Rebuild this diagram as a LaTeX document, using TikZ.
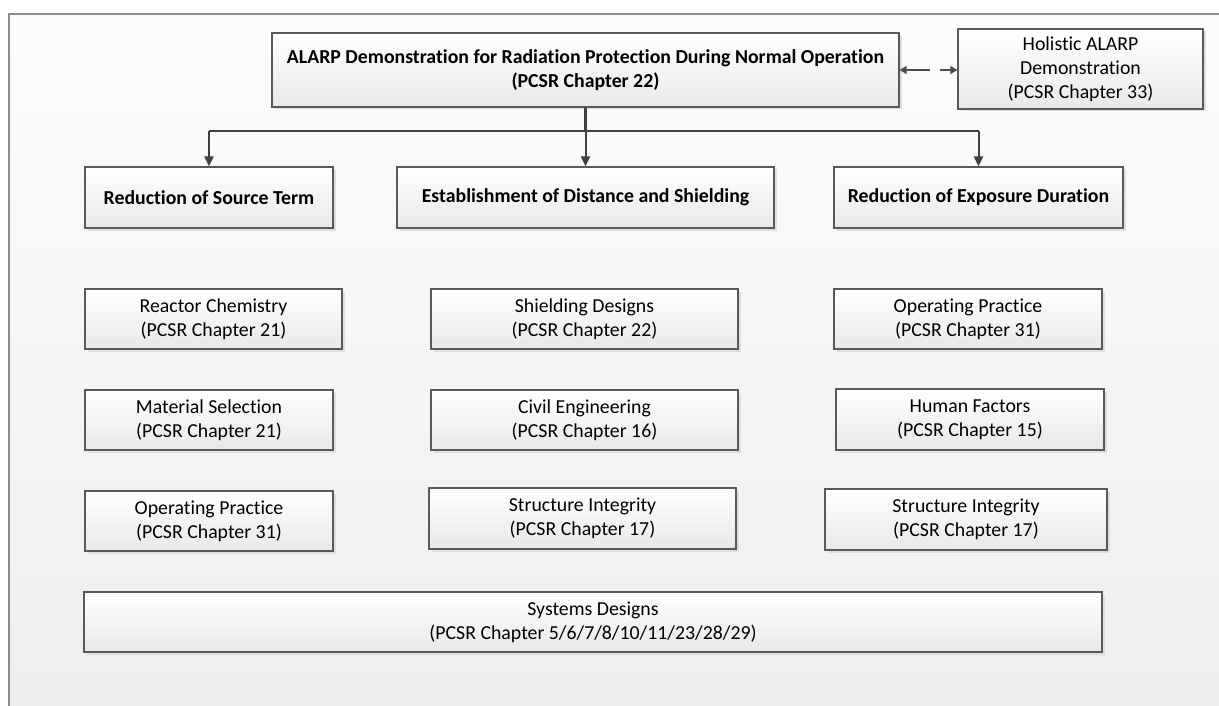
\documentclass[tikz,border=0pt]{standalone}
\usepackage{fontspec}
\setmainfont{Carlito}[Ligatures=NoCommon]
\usetikzlibrary{arrows.meta,shadows}

\tikzset{
  box/.style={draw=black!65, line width=1.2pt, top color=white, bottom color=black!9,
    align=center, inner sep=0pt, font=\fontsize{19.8}{24}\selectfont,
    drop shadow={shadow xshift=2.5pt, shadow yshift=-2.5pt, fill=black!13, opacity=1}},
  headbox/.style={box, font=\fontsize{19.8}{24}\selectfont\bfseries},
  conn/.style={draw=black!75, line width=2pt, -{Triangle[width=9pt,length=10pt]}},
  trunk/.style={draw=black!75, line width=2.5pt},
  dconn/.style={draw=black!70, line width=1.5pt, dash pattern=on 24pt off 10pt,
    {Triangle[width=8pt,length=7pt]}-{Triangle[width=8pt,length=7pt]}}
}

\begin{document}
\begin{tikzpicture}[x=1pt,y=-1pt]
        \clip (0,0) rectangle (1219,706);
        \fill[white] (0,0) rectangle (1219,706);
        \draw[draw=black!45, line width=1.5pt, top color=black!1, bottom color=black!7] (9,14) rectangle (1240,730);

        % top level
        \node[headbox, minimum width=627pt, minimum height=74pt] (main) at (585.5,70)
            {ALARP Demonstration for Radiation Protection During Normal Operation\\(PCSR Chapter 22)};
        \node[box, minimum width=245pt, minimum height=80pt] (holistic) at (1080.5,69)
            {Holistic ALARP\\Demonstration\\(PCSR Chapter 33)};

        % three principles
        \node[headbox, minimum width=248pt, minimum height=61pt] (source) at (209,197.5) {Reduction of Source Term};
        \node[headbox, minimum width=377pt, minimum height=61pt] (distance) at (585.5,197.5) {Establishment of Distance and Shielding};
        \node[headbox, minimum width=289pt, minimum height=61pt] (exposure) at (978.5,197.5) {Reduction of Exposure Duration};

        % left column
        \node[box, minimum width=257pt, minimum height=60pt] (chem) at (213.5,319) {Reactor Chemistry\\(PCSR Chapter 21)};
        \node[box, minimum width=248pt, minimum height=60pt] (material) at (209,420) {Material Selection\\(PCSR Chapter 21)};
        \node[box, minimum width=248pt, minimum height=60pt] (practiceL) at (209,521) {Operating Practice\\(PCSR Chapter 31)};

        % middle column
        \node[box, minimum width=307pt, minimum height=60pt] (shield) at (584.5,319) {Shielding Designs\\(PCSR Chapter 22)};
        \node[box, minimum width=307pt, minimum height=60pt] (civil) at (584.5,420) {Civil Engineering\\(PCSR Chapter 16)};
        \node[box, minimum width=307pt, minimum height=61pt] (structM) at (582.5,518.5) {Structure Integrity\\(PCSR Chapter 17)};

        % right column
        \node[box, minimum width=268pt, minimum height=60pt] (practiceR) at (968,319) {Operating Practice\\(PCSR Chapter 31)};
        \node[box, minimum width=268pt, minimum height=61pt] (human) at (970,419.5) {Human Factors\\(PCSR Chapter 15)};
        \node[box, minimum width=282pt, minimum height=61pt] (structR) at (966,519.5) {Structure Integrity\\(PCSR Chapter 17)};

        \node[box, minimum width=1018pt, minimum height=60pt] (systems) at (593,622)
            {Systems Designs\\(PCSR Chapter 5/6/7/8/10/11/23/28/29)};

        % connectors
        \coordinate (split) at (585.5,131);
        \draw[trunk] (main.south) -- (split);
        \draw[trunk] (source.north |- split) -- (exposure.north |- split);
        \foreach \t in {source,distance,exposure}
        {
                \draw[conn] (split -| \t.north) -- (\t.north);
        }
        \draw[dconn] (main.east) -- (main.east -| holistic.west);
\end{tikzpicture}
\end{document}
